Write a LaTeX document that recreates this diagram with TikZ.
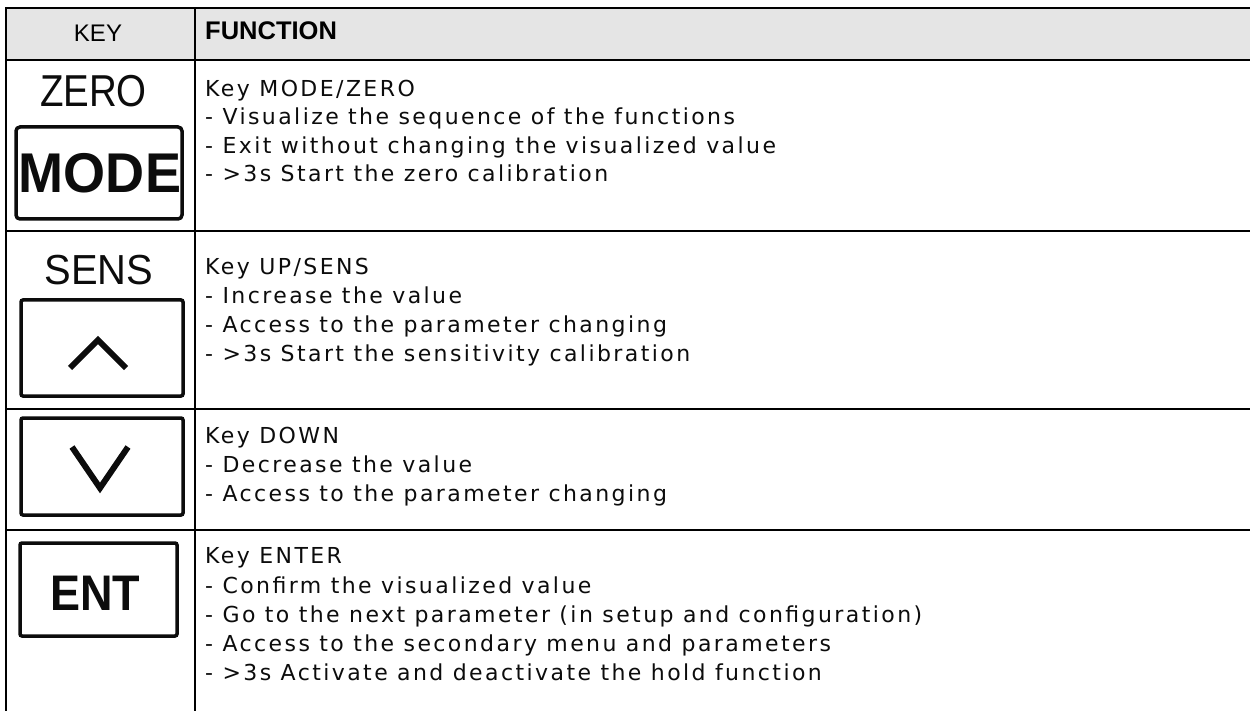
\documentclass[tikz,border=0pt]{standalone}
\usepackage{fontspec}
\setmainfont{DejaVu Sans}
\newfontfamily\bodyfont[LetterSpace=11]{DejaVu Sans}
\newfontfamily\arialfont{Liberation Sans}
\definecolor{headgray}{RGB}{229,229,229}
\definecolor{ink}{RGB}{12,12,12}
\tikzset{
  rule/.style={line width=2pt, draw=black, line cap=rect},
  body/.style={anchor=base west, inner sep=0pt, text=ink, font=\bodyfont\fontsize{22}{26}\selectfont},
  headkey/.style={anchor=base, inner sep=0pt, font=\arialfont\fontsize{24}{28}\selectfont},
  headfun/.style={anchor=base west, inner sep=0pt, font=\arialfont\bfseries\fontsize{25.5}{30}\selectfont},
  keybox/.style={draw=ink, line width=3.5pt, rounded corners=2pt},
  keylabel/.style={anchor=base, inner sep=0pt, text=ink},
  caret/.style={draw=ink, line width=6pt, miter limit=10}
}
\begin{document}
\begin{tikzpicture}[x=1pt,y=-1pt]
\useasboundingbox (0,0) rectangle (1250,711);
\fill[white] (0,0) rectangle (1250,711);
% header band
\fill[headgray] (6,8) rectangle (1250,60);
% table rules
\draw[rule] (6,8) -- (1250,8);
\draw[rule] (6,60) -- (1250,60);
\draw[rule] (6,231) -- (1250,231);
\draw[rule] (6,409) -- (1250,409);
\draw[rule] (6,530) -- (1250,530);
\draw[rule] (6,8) -- (6,711);
\draw[rule] (195,8) -- (195,711);
% header texts
\node[headkey] (hkey) at (98,42) {KEY};
\node[headfun] (hfun) at (205,40) {FUNCTION};
% ---- row 1: MODE / ZERO
\node[keylabel, font=\arialfont\fontsize{44.7}{48}\selectfont] (zero) at (93.5,107) {\scalebox{0.86}[1]{ZERO}};
\draw[keybox, rounded corners=4pt] (16,127) rectangle (182,219);
\node[keylabel, font=\arialfont\bfseries\fontsize{56}{60}\selectfont] (mode) at (100,193) {\scalebox{0.965}[1]{MODE}};
\node[body] (r1a) at (205,97) {Key MODE/ZERO};
\node[body] (r1b) at (205,125) {- Visualize the sequence of the functions};
\node[body] (r1c) at (205,153.5) {- Exit without changing the visualized value};
\node[body] (r1d) at (205,182) {- >3s Start the zero calibration};
% ---- row 2: UP / SENS
\node[keylabel, font=\arialfont\fontsize{42}{46}\selectfont] (sens) at (99,285) {\scalebox{0.95}[1]{SENS}};
\draw[keybox] (21,300) rectangle (183,396);
\draw[caret] (70,368) -- (98,340) -- (126,368);
\node[body] (r2a) at (205,274.5) {Key UP/SENS};
\node[body] (r2b) at (205,303.5) {- Increase the value};
\node[body] (r2c) at (205,332.5) {- Access to the parameter changing};
\node[body] (r2d) at (205,361.5) {- >3s Start the sensitivity calibration};
% ---- row 3: DOWN
\draw[keybox] (21,418) rectangle (183,515);
\draw[caret] (72,447) -- (100,488) -- (128,447);
\node[body] (r3a) at (205,443) {Key DOWN};
\node[body] (r3b) at (205,472) {- Decrease the value};
\node[body] (r3c) at (205,501) {- Access to the parameter changing};
% ---- row 4: ENTER
\draw[keybox] (20,543) rectangle (177,636);
\node[keylabel, font=\arialfont\bfseries\fontsize{50}{54}\selectfont] (ent) at (95,610) {\scalebox{0.9}[1]{ENT}};
\node[body] (r4a) at (205,563) {Key ENTER};
\node[body] (r4b) at (205,593) {- Confirm the visualized value};
\node[body] (r4c) at (205,622) {- Go to the next parameter (in setup and configuration)};
\node[body] (r4d) at (205,651.5) {- Access to the secondary menu and parameters};
\node[body] (r4e) at (205,680.5) {- >3s Activate and deactivate the hold function};
\end{tikzpicture}
\end{document}
